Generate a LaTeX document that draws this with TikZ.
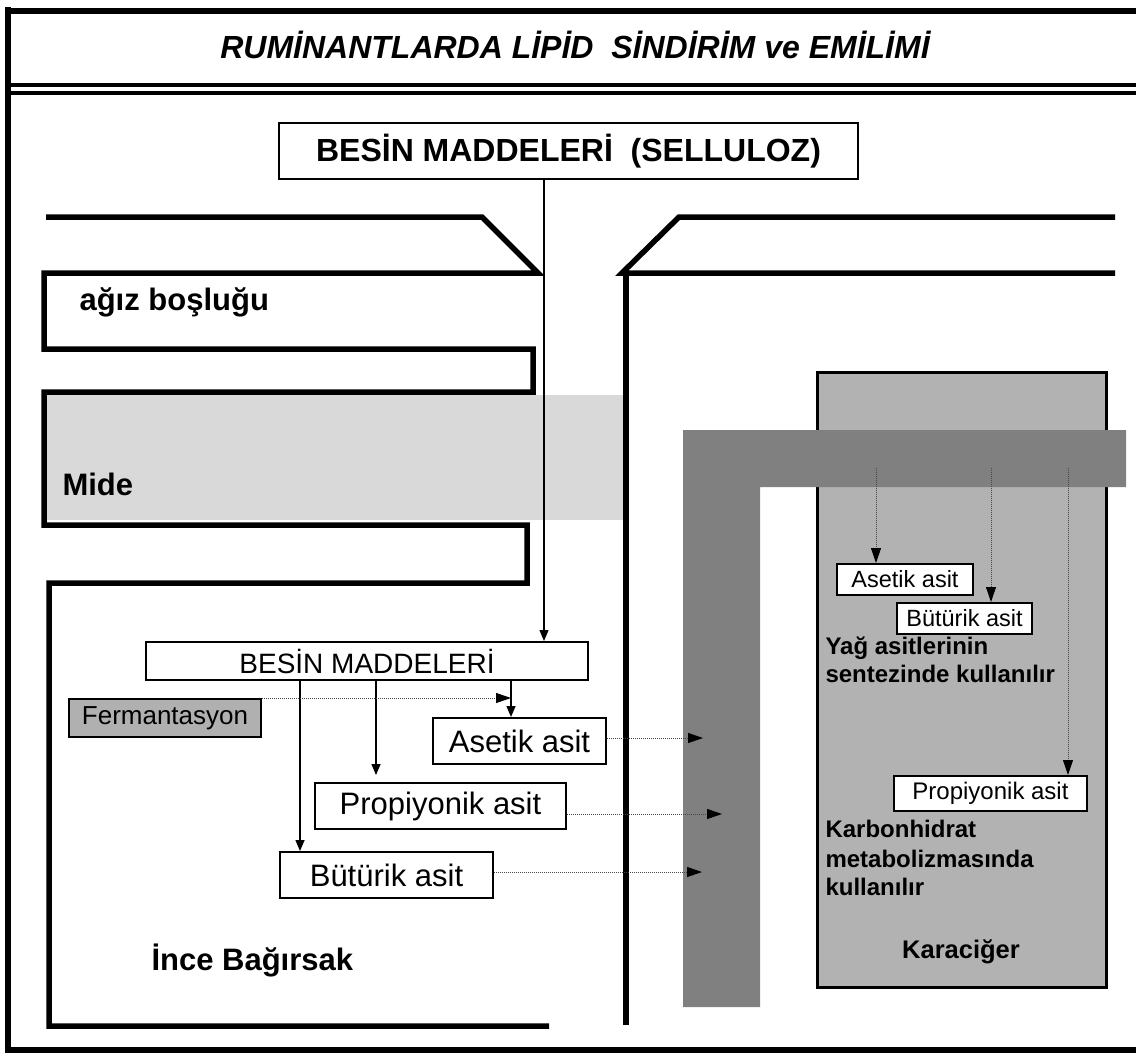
\documentclass[tikz,border=0pt]{standalone}
\usepackage{fontspec}
\setmainfont{Liberation Sans}
\usetikzlibrary{arrows.meta,calc}
\definecolor{midegray}{RGB}{217,217,217}
\definecolor{livergray}{RGB}{178,178,178}
\definecolor{bandgray}{RGB}{128,128,128}
\definecolor{fermgray}{RGB}{176,176,176}
\definecolor{dotgray}{RGB}{70,70,70}
\newcommand\setfs[1]{\fontsize{#1}{#1}\selectfont}
\begin{document}
\begin{tikzpicture}[x=1pt,y=-1pt,
  frameline/.style={line width=6pt},
  dblline/.style={line width=4pt},
  wall/.style={line width=5.5pt, line join=miter},
  flowbox/.style={draw, line width=2pt, fill=white, inner sep=0pt},
  solidarrow/.style={line width=1.5pt, -{Triangle[length=11pt,width=9pt]}},
  dotarrow/.style={line width=1pt, dotgray, densely dotted, -{Triangle[length=15pt,width=10pt,fill=black,color=black]}},
  biglabel/.style={anchor=base west, font=\bfseries\setfs{31}},
  liverlabel/.style={anchor=base west, font=\bfseries\setfs{24}}
]
\useasboundingbox (0,0) rectangle (1136,1057);
\fill[white] (0,0) rectangle (1136,1057);

% stomach band
\fill[midegray] (44,395) rectangle (624,520);

% frame
\draw[frameline] (8,7) -- (8,1053);
\draw[frameline] (5,11) -- (1136,11);
\draw[dblline] (8,85) -- (1136,85);
\draw[dblline] (8,93) -- (1136,93);
\draw[frameline] (5,1050) -- (1136,1050);

% title
\node[anchor=base, font=\bfseries\itshape\setfs{32}] (title) at (575,59) {RUMİNANTLARDA LİPİD\ \ SİNDİRİM ve EMİLİMİ};

% left digestive tract wall
\draw[wall] (46,217) -- (482,217) -- (538,273) -- (44,273) -- (44,349) -- (533,349) -- (533,392) -- (44,392) -- (44,525) -- (527,525) -- (527,583) -- (49,583) -- (49,1026) -- (549,1026);
% right wall
\draw[wall] (1115,217) -- (679,217) -- (622,273) -- (1115,273);
\draw[wall] (626,273) -- (626,1025);

% liver
\draw[line width=3pt, fill=livergray] (817,372) rectangle (1106,987);
% dark L (blood vessel)
\fill[bandgray] (683,430) -- (1126,430) -- (1126,487) -- (760,487) -- (760,1007) -- (683,1007) -- cycle;

% labels
\node[biglabel] (agiz) at (76,310) {ağız boşluğu};
\node[biglabel] (mide) at (59,495) {Mide};
\node[biglabel] (ince) at (148,970) {İnce Bağırsak};

% top box
\node[flowbox, minimum width=579pt, minimum height=56pt, font=\bfseries\setfs{32}] (top) at (568.5,151) {BESİN MADDELERİ\ \ (SELLULOZ)};

% left flow
\node[flowbox, minimum width=442pt, minimum height=38pt, font=\setfs{28}] (besin) at (367,661) {BESİN MADDELERİ};
\node[draw, line width=2pt, fill=fermgray, inner sep=0pt, minimum width=192pt, minimum height=38pt, font=\setfs{26}] (ferm) at (165,718) {Fermantasyon};
\node[flowbox, minimum width=173pt, minimum height=46pt, font=\setfs{31}] (asetL) at (519.5,741) {Asetik asit};
\node[flowbox, minimum width=251pt, minimum height=46pt, font=\setfs{31}] (propL) at (440.5,806) {Propiyonik asit};
\node[flowbox, minimum width=213pt, minimum height=46pt, font=\setfs{31}] (butL) at (386.5,875) {Bütürik asit};

% right (liver) boxes
\node[flowbox, minimum width=136pt, minimum height=31pt, font=\setfs{23.5}] (asetR) at (905,579.5) {Asetik asit};
\node[flowbox, minimum width=135pt, minimum height=31pt, font=\setfs{23.5}] (butR) at (964.5,618.5) {Bütürik asit};
\node[flowbox, minimum width=193pt, minimum height=35pt, font=\setfs{24}] (propR) at (990.5,793.5) {Propiyonik asit};

% liver texts
\node[liverlabel] (yag1) at (822,654) {Yağ asitlerinin};
\node[liverlabel] (yag2) at (822,682) {sentezinde kullanılır};
\node[liverlabel] (karb1) at (822,837) {Karbonhidrat};
\node[liverlabel] (karb2) at (822,867) {metabolizmasında};
\node[liverlabel] (karb3) at (822,895) {kullanılır};
\node[anchor=base, font=\bfseries\setfs{25.5}] (karaciger) at (961,958) {Karaciğer};

% helper coordinates
\coordinate (cx1) at (544,0);
\coordinate (cx2) at (511,0);
\coordinate (cx4) at (300,0);
\coordinate (p3end) at (376,775);
\coordinate (tipA) at (703,0);
\coordinate (tipP) at (722,0);
\coordinate (tipB) at (702,0);
\coordinate (s1) at (876,468);
\coordinate (s2) at (991,468);
\coordinate (s3) at (1068,468);

% solid arrows
\draw[line width=1.2pt, -{Triangle[length=11pt,width=9pt]}] (top.south -| cx1) -- (besin.north -| cx1);
\draw[solidarrow] (besin.south -| cx2) -- (asetL.north -| cx2);
\draw[solidarrow] (besin.south -| p3end) -- (p3end);
\draw[solidarrow] (besin.south -| cx4) -- (butL.north -| cx4);

% dotted arrows (left)
\draw[dotarrow] (ferm.north east) -- (ferm.north east -| cx2);
\draw[dotarrow] ($(asetL.east)+(0,-3)$) -- ($(asetL.east -| tipA)+(0,-3)$);
\draw[dotarrow] ($(propL.east)+(0,8)$) -- ($(propL.east -| tipP)+(0,8)$);
\draw[dotarrow] ($(butL.east)+(0,-3)$) -- ($(butL.east -| tipB)+(0,-3)$);

% dotted arrows (liver)
\draw[dotarrow] (s1) -- (asetR.north -| s1);
\draw[dotarrow] (s2) -- (butR.north -| s2);
\draw[dotarrow] (s3) -- (propR.north -| s3);
\end{tikzpicture}
\end{document}
